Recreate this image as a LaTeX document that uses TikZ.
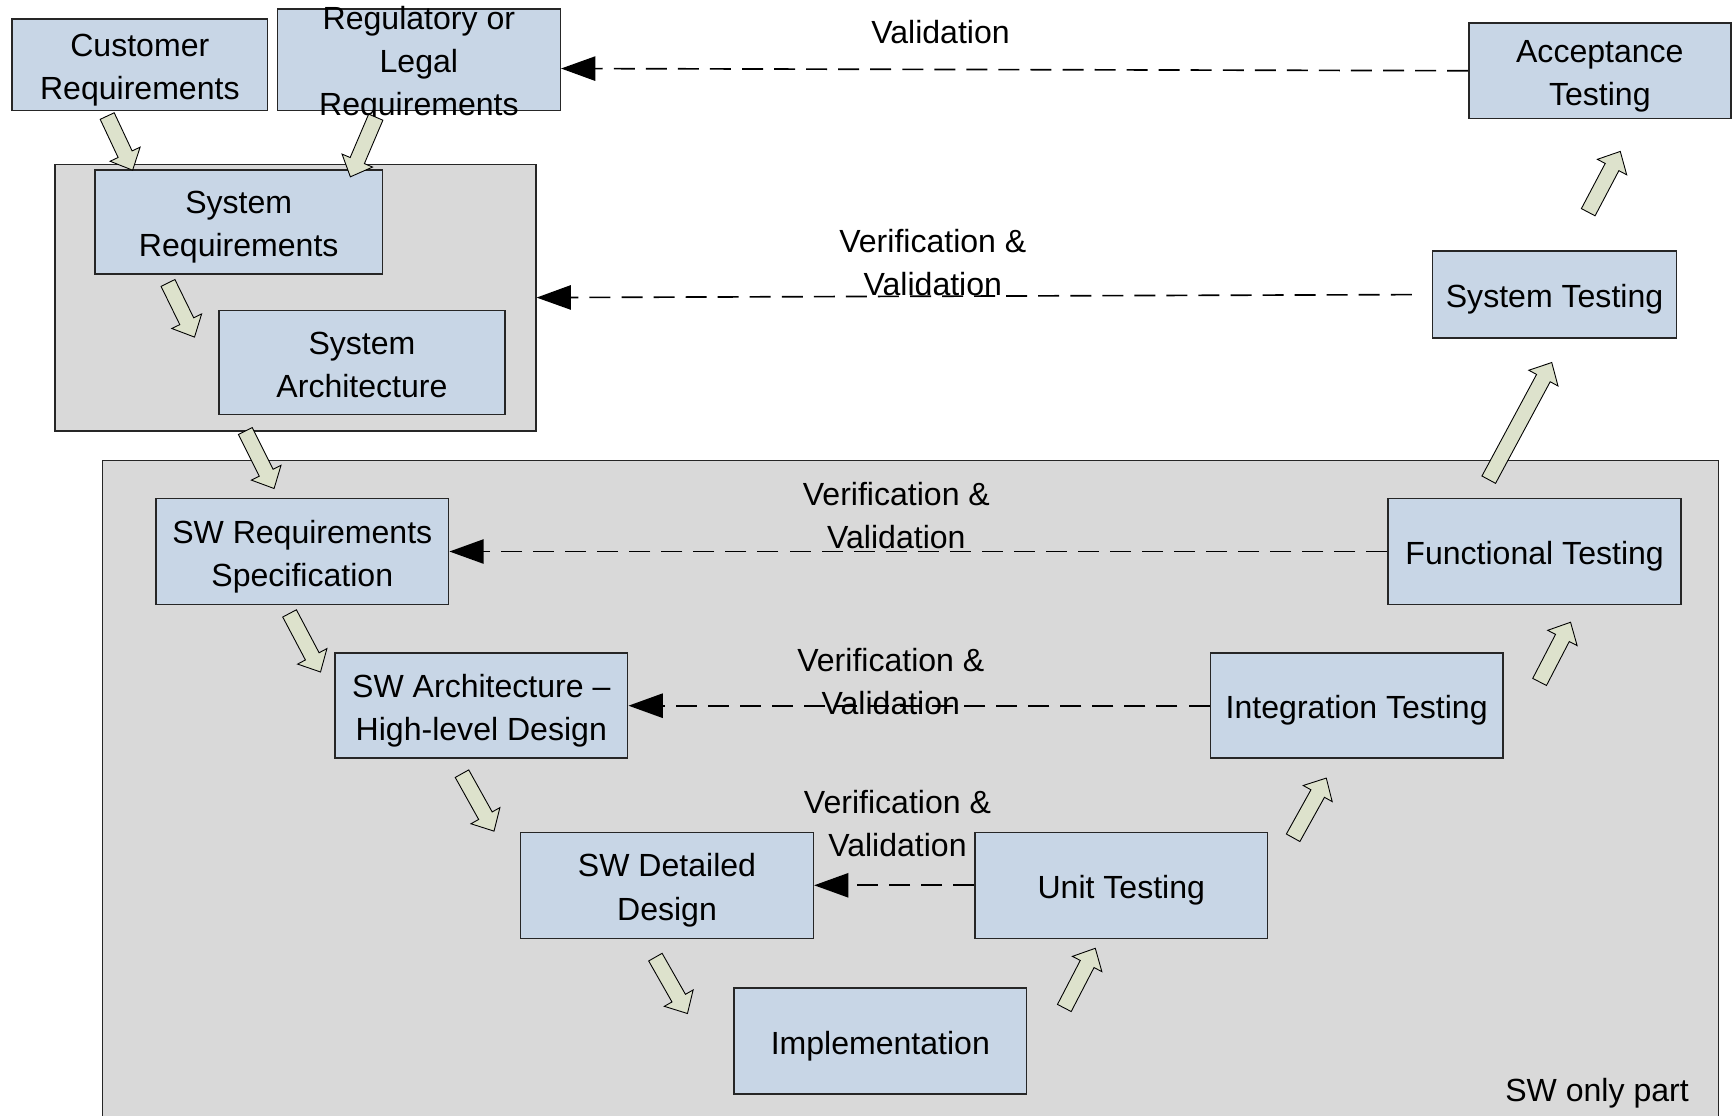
\documentclass[tikz,border=0pt]{standalone}
\usepackage{fontspec}
\setmainfont{Liberation Sans}
\usetikzlibrary{calc,arrows.meta}
\definecolor{boxblue}{RGB}{200,214,230}
\definecolor{areagray}{RGB}{217,217,217}
\definecolor{fatfill}{RGB}{221,226,204}
\newcommand\mainfnt{\fontsize{29}{39}\selectfont}
\newcommand\upstrut{\rule{0pt}{30pt}}
\newcommand\dnstrut{\rule[-6.2pt]{0pt}{6.2pt}}
\newcommand\fatarrow[2]{%
  \path ($(#2)!16pt!(#1)$) coordinate (fah);
  \draw[fill=fatfill, draw=black, line width=0.8pt, line join=miter]
    ($(#1)!7pt!90:(#2)$) -- ($(fah)!7pt!90:(#2)$) -- ($(fah)!15pt!90:(#2)$) -- (#2)
    -- ($(fah)!15pt!-90:(#2)$) -- ($(fah)!7pt!-90:(#2)$) -- ($(#1)!7pt!-90:(#2)$) -- cycle;
}
\tikzset{
  stage/.style={draw=black!85, line width=1.3pt, fill=boxblue, inner sep=0pt, align=center, font=\mainfnt},
  area/.style={draw=black!85, line width=1.5pt, fill=areagray, inner sep=0pt},
  lbl/.style={inner sep=0pt, align=center, font=\mainfnt},
  vv/.style={draw=black, line width=1.5pt, dash pattern=on 19pt off 10pt, -{Triangle[length=31pt,width=22pt]}}
}
\begin{document}
\begin{tikzpicture}[x=1pt,y=-1pt]
\useasboundingbox (0,0) rectangle (1568,1009);
\fill[white] (0,0) rectangle (1568,1009);
% areas
\node[area, anchor=north west, minimum width=1462pt, minimum height=610pt] (swarea) at (92,416) {};
\node[area, anchor=north west, minimum width=435pt, minimum height=241pt] (sysarea) at (49,148) {};
% boxes
\node[stage, minimum width=231pt, minimum height=83pt] (cust) at (126.5,58.5) {\upstrut Customer\\Requirements\dnstrut};
\node[stage, minimum width=256pt, minimum height=92pt] (reg) at (379,54) {};
\node[lbl] (regtext) at (379,58) {Regulatory or\\Legal\\Requirements};
\node[stage, minimum width=260pt, minimum height=94pt] (sysreq) at (216,201) {\upstrut System\\Requirements\dnstrut};
\node[stage, minimum width=259pt, minimum height=94pt] (sysarch) at (327.5,328) {\upstrut System\\Architecture\dnstrut};
\node[stage, minimum width=237pt, minimum height=86pt] (accept) at (1447.5,64) {\upstrut Acceptance\\Testing\dnstrut};
\node[stage, minimum width=221pt, minimum height=79pt] (systest) at (1406.5,266.5) {\upstrut System Testing\dnstrut};
\node[stage, minimum width=265pt, minimum height=96pt] (swreq) at (273.5,499) {\upstrut SW Requirements\\Specification\dnstrut};
\node[stage, minimum width=265pt, minimum height=95pt] (swarch) at (435.5,638.5) {\upstrut SW Architecture --\\High-level Design\dnstrut};
\node[stage, minimum width=265pt, minimum height=96pt] (swdet) at (603.5,801) {\upstrut SW Detailed\\Design\dnstrut};
\node[stage, minimum width=265pt, minimum height=96pt] (impl) at (796.5,942) {\upstrut Implementation\dnstrut};
\node[stage, minimum width=265pt, minimum height=96pt] (unit) at (1014.5,801) {\upstrut Unit Testing\dnstrut};
\node[stage, minimum width=265pt, minimum height=95pt] (integ) at (1227.5,638.5) {\upstrut Integration Testing\dnstrut};
\node[stage, minimum width=265pt, minimum height=96pt] (func) at (1388.5,499) {\upstrut Functional Testing\dnstrut};
\node[lbl] (swonly) at (1445,989) {SW only part};
% dashed connectors
\draw[vv] (accept.west) -- ($(reg.east)+(0,8)$);
\draw[vv, shorten <=18pt] (systest.west) -- (sysarea.east);
\draw[vv] (func.west) -- (swreq.east);
\draw[vv] (integ.west) -- (swarch.east);
\draw[vv] (unit.west) -- (swdet.east);
% labels
\node[lbl] (l1) at (851,29) {Validation};
\node[lbl] (l2) at (844,237.5) {Verification \&\\Validation};
\node[lbl] (l3) at (811,466.5) {Verification \&\\Validation};
\node[lbl] (l4) at (806,616.5) {Verification \&\\Validation};
\node[lbl] (l5) at (812,745.5) {Verification \&\\Validation};
% block arrows
\coordinate (a1t) at (97,105);   \coordinate (a1h) at (120,154);
\coordinate (a2t) at (340,106);  \coordinate (a2h) at (317,160);
\coordinate (a3t) at (152,256);  \coordinate (a3h) at (176,305);
\coordinate (a4t) at (222,390);  \coordinate (a4h) at (248,442);
\coordinate (a5t) at (262,555);  \coordinate (a5h) at (290,608);
\coordinate (a6t) at (418,700);  \coordinate (a6h) at (447,752);
\coordinate (a7t) at (593,866);  \coordinate (a7h) at (622,917);
\coordinate (a8t) at (963,912);  \coordinate (a8h) at (991,858);
\coordinate (a9t) at (1170,758); \coordinate (a9h) at (1200,704);
\coordinate (a10t) at (1393,617); \coordinate (a10h) at (1421,563);
\coordinate (a11t) at (1347,434); \coordinate (a11h) at (1404,328);
\coordinate (a12t) at (1437,192); \coordinate (a12h) at (1466,137);
\fatarrow{a1t}{a1h}
\fatarrow{a2t}{a2h}
\fatarrow{a3t}{a3h}
\fatarrow{a4t}{a4h}
\fatarrow{a5t}{a5h}
\fatarrow{a6t}{a6h}
\fatarrow{a7t}{a7h}
\fatarrow{a8t}{a8h}
\fatarrow{a9t}{a9h}
\fatarrow{a10t}{a10h}
\fatarrow{a11t}{a11h}
\fatarrow{a12t}{a12h}
\end{tikzpicture}
\end{document}
